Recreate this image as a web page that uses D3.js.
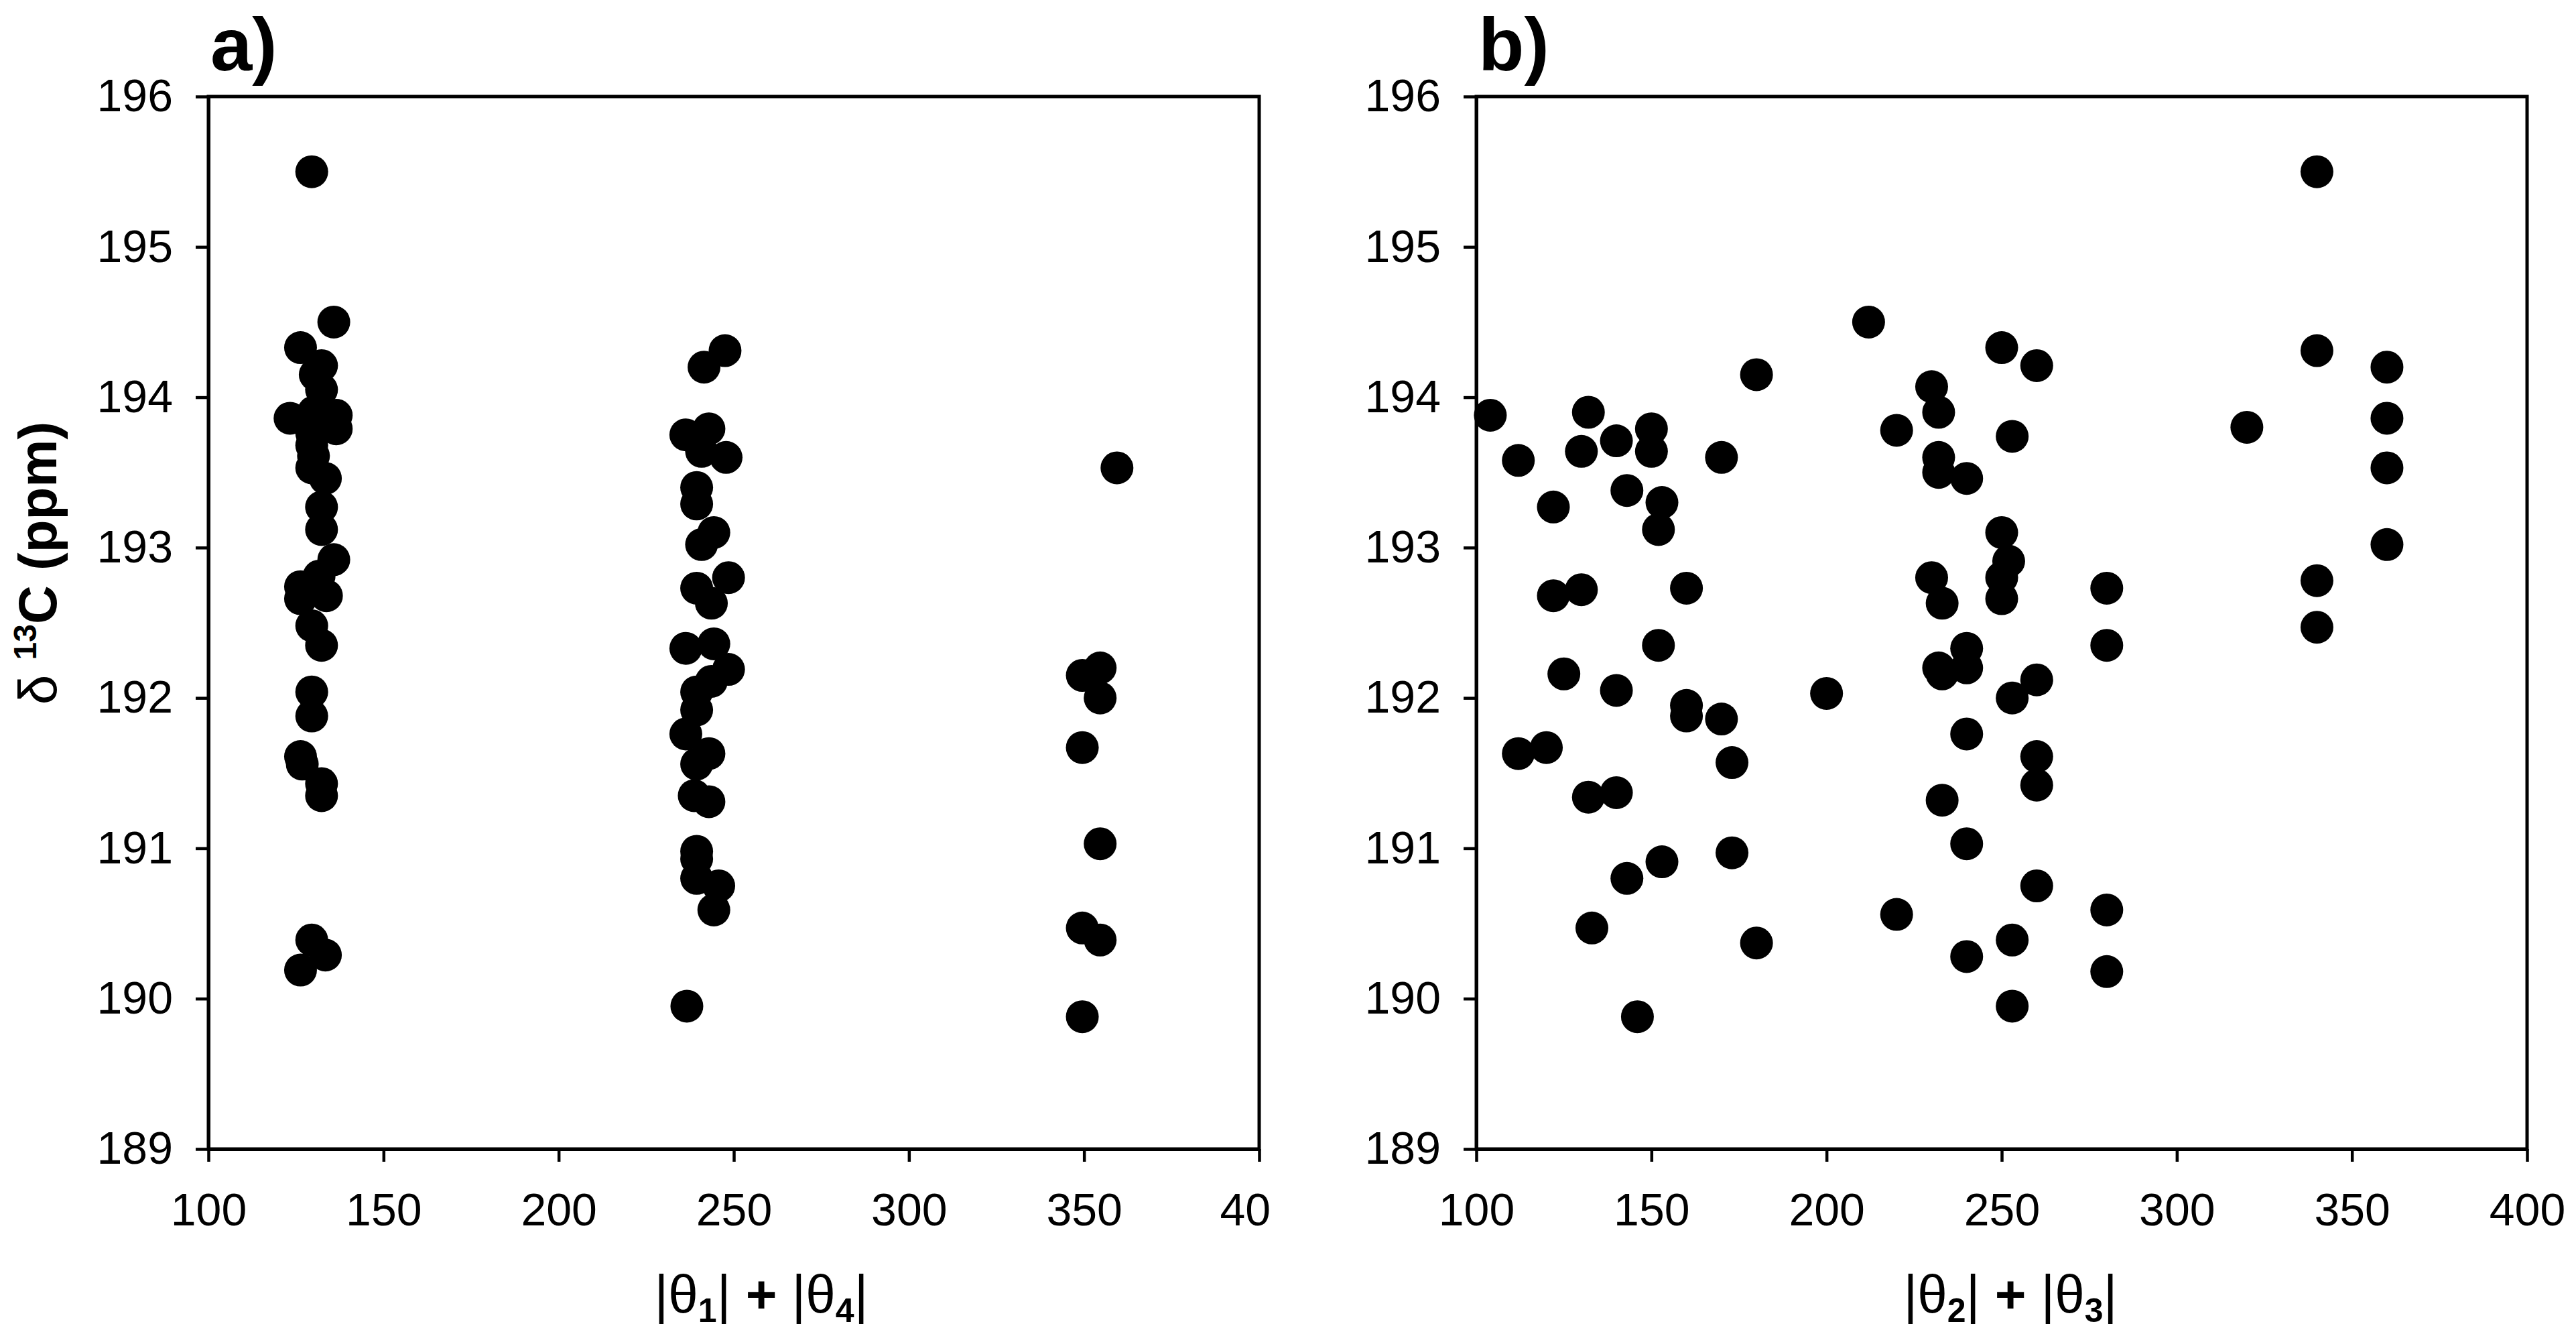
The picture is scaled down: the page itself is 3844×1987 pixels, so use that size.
<!DOCTYPE html>
<html lang="en">
<head>
<meta charset="UTF-8">
<title>delta 13C vs dihedral sums</title>
<script src="https://d3js.org/d3.v7.min.js"></script>
<style>
  body { margin: 0; background: #fff; }
  svg { display: block; }
  text { font-family: "Liberation Sans", Arial, sans-serif; fill: #000; }
</style>
</head>
<body>
<div id="chart"></div>
<script>
// panel a: |θ1| + |θ4|  vs  δ 13C
const thetaA = [
  129.5, 135.8, 126.3, 132.3, 130.5, 132.3, 123.3, 136.5, 136.5, 130.0, 129.5, 129.5, 130.0, 129.5, 133.4, 132.3, 132.3,
  135.8, 131.6, 126.3, 126.3, 133.7, 129.5, 132.3, 129.5, 129.5, 126.3, 126.8, 132.3, 132.3, 129.5, 133.4, 126.3,
  247.5, 241.5, 236.3, 242.9, 240.8, 247.8, 239.4, 239.4, 244.3, 240.8, 248.5, 239.4, 243.6, 236.3, 244.3, 248.5,
  243.6, 239.4, 239.4, 236.3, 242.9, 239.4, 238.7, 242.9, 239.4, 239.4, 239.4, 245.7, 244.3, 236.6,
  359.4, 349.5, 354.6, 354.6, 349.5, 354.6, 349.5, 354.6, 349.5
];
const shiftA = [
  195.50, 194.50, 194.33, 194.21, 194.15, 194.05, 193.86, 193.88, 193.79, 193.90, 193.76, 193.68, 193.61, 193.53, 193.46, 193.27, 193.12,
  192.92, 192.81, 192.74, 192.66, 192.68, 192.48, 192.35, 192.04, 191.88, 191.61, 191.56, 191.43, 191.35, 190.39, 190.29, 190.19,
  194.31, 194.20, 193.75, 193.79, 193.64, 193.60, 193.40, 193.29, 193.10, 193.02, 192.80, 192.73, 192.63, 192.33, 192.36, 192.19,
  192.11, 192.04, 191.92, 191.76, 191.63, 191.56, 191.35, 191.31, 190.98, 190.93, 190.80, 190.75, 190.59, 189.95,
  193.53, 192.15, 192.20, 192.00, 191.67, 191.03, 190.47, 190.39, 189.88
];

// panel b: |θ2| + |θ3|  vs  δ 13C
const thetaB = [
  104, 132, 112, 130, 140, 150, 150, 180, 170, 212, 122, 143, 153, 152, 122, 130, 160, 152, 125, 140,
  160, 160, 170, 200, 112, 120, 173, 132, 140, 153, 143, 173, 133, 180, 146,
  220, 230, 232, 232, 232, 240, 250, 253, 250, 252, 250, 250, 230, 233, 240, 232, 233, 240, 240, 253,
  233, 240, 220, 240, 253, 253,
  260, 260, 260, 260, 260, 280, 280, 280, 280,
  320, 340, 340, 340, 340, 360, 360, 360, 360
];
const shiftB = [
  193.88, 193.90, 193.58, 193.64, 193.71, 193.79, 193.64, 194.15, 193.60, 194.50, 193.27, 193.38, 193.30, 193.12, 192.68, 192.72, 192.73, 192.35, 192.16, 192.05,
  191.95, 191.88, 191.86, 192.03, 191.63, 191.67, 191.57, 191.34, 191.37, 190.91, 190.80, 190.97, 190.47, 190.37, 189.88,
  193.78, 194.07, 193.90, 193.60, 193.50, 193.46, 194.33, 193.74, 193.10, 192.91, 192.80, 192.66, 192.80, 192.63, 192.33, 192.20, 192.16, 192.20, 191.76, 192.00,
  191.32, 191.03, 190.56, 190.28, 190.39, 189.95,
  194.21, 192.12, 191.61, 191.42, 190.75, 192.73, 192.35, 190.59, 190.18,
  193.80, 195.50, 194.31, 192.78, 192.47, 194.20, 193.86, 193.53, 193.02
];

const xTicks = [100, 150, 200, 250, 300, 350, 400];
const xTickLabelsA = ["100", "150", "200", "250", "300", "350", "40"];
const xTickLabelsB = ["100", "150", "200", "250", "300", "350", "400"];
const yTicks = [189, 190, 191, 192, 193, 194, 195, 196];

const W = 3844, H = 1987;
const plotTop = 144, plotBottom = 1714, plotW = 1568;
const svg = d3.select("#chart").append("svg").attr("width", W).attr("height", H);

const y = d3.scaleLinear().domain([189, 196]).range([plotBottom, plotTop]);

function drawPanel(left, xs, ys, tickLabels, letter, sub1, sub2, titleX) {
  const x = d3.scaleLinear().domain([100, 400]).range([left, left + plotW]);
  const g = svg.append("g");

  // points
  g.selectAll("circle")
    .data(xs.map((v, i) => [v, ys[i]]))
    .enter().append("circle")
    .attr("cx", d => x(d[0]))
    .attr("cy", d => y(d[1]))
    .attr("r", 24.5)
    .attr("fill", "#000");

  // frame
  g.append("rect")
    .attr("x", left).attr("y", plotTop)
    .attr("width", plotW).attr("height", plotBottom - plotTop)
    .attr("fill", "none").attr("stroke", "#000").attr("stroke-width", 5);

  const ax = g.append("g")
    .attr("transform", `translate(0,${plotBottom})`)
    .call(d3.axisBottom(x).tickValues(xTicks).tickSize(19).tickPadding(47).tickSizeOuter(0)
      .tickFormat((d, i) => tickLabels[i]));
  const ay = g.append("g")
    .attr("transform", `translate(${left},0)`)
    .call(d3.axisLeft(y).tickValues(yTicks).tickSize(19).tickPadding(34).tickSizeOuter(0)
      .tickFormat(d3.format("d")));

  [ax, ay].forEach(a => {
    a.select(".domain").attr("stroke-width", 5);
    a.selectAll(".tick line").attr("stroke-width", 4.5);
    a.selectAll(".tick text").attr("font-size", 68).attr("font-family", "Liberation Sans, Arial, sans-serif");
  });

  // truncated last label in panel a
  if (tickLabels[tickLabels.length - 1] === "40") {
    ax.selectAll(".tick text").filter((d, i) => i === tickLabels.length - 1)
      .attr("text-anchor", "start").attr("x", -59);
  }

  // panel letter
  svg.append("text")
    .attr("x", left + 3).attr("y", 105)
    .attr("font-size", 112).attr("font-weight", "bold")
    .text(letter);

  // x title  |θa| + |θb|
  const t = svg.append("text")
    .attr("x", titleX).attr("y", 1958)
    .attr("text-anchor", "middle")
    .attr("font-size", 80);
  t.append("tspan").text("|θ");
  t.append("tspan").attr("font-size", 50).attr("font-weight", "bold").attr("dy", 14).text(sub1);
  t.append("tspan").attr("dy", -14).text("| ");
  t.append("tspan").attr("font-weight", "bold").text("+");
  t.append("tspan").text(" |θ");
  t.append("tspan").attr("font-size", 50).attr("font-weight", "bold").attr("dy", 14).text(sub2);
  t.append("tspan").attr("dy", -14).text("|");
}

drawPanel(311, thetaA, shiftA, xTickLabelsA, "a)", "1", "4", 1136);
drawPanel(2203, thetaB, shiftB, xTickLabelsB, "b)", "2", "3", 3000);

// y title δ 13C (ppm)
const yl = svg.append("text")
  .attr("transform", "translate(84,840) rotate(-90)")
  .attr("text-anchor", "middle")
  .attr("font-size", 80);
yl.append("tspan").text("δ ");
yl.append("tspan").attr("font-weight", "bold").attr("font-size", 48).attr("dy", -30).text("13");
yl.append("tspan").attr("font-weight", "bold").attr("dy", 30).text("C (ppm)");
</script>
</body>
</html>
